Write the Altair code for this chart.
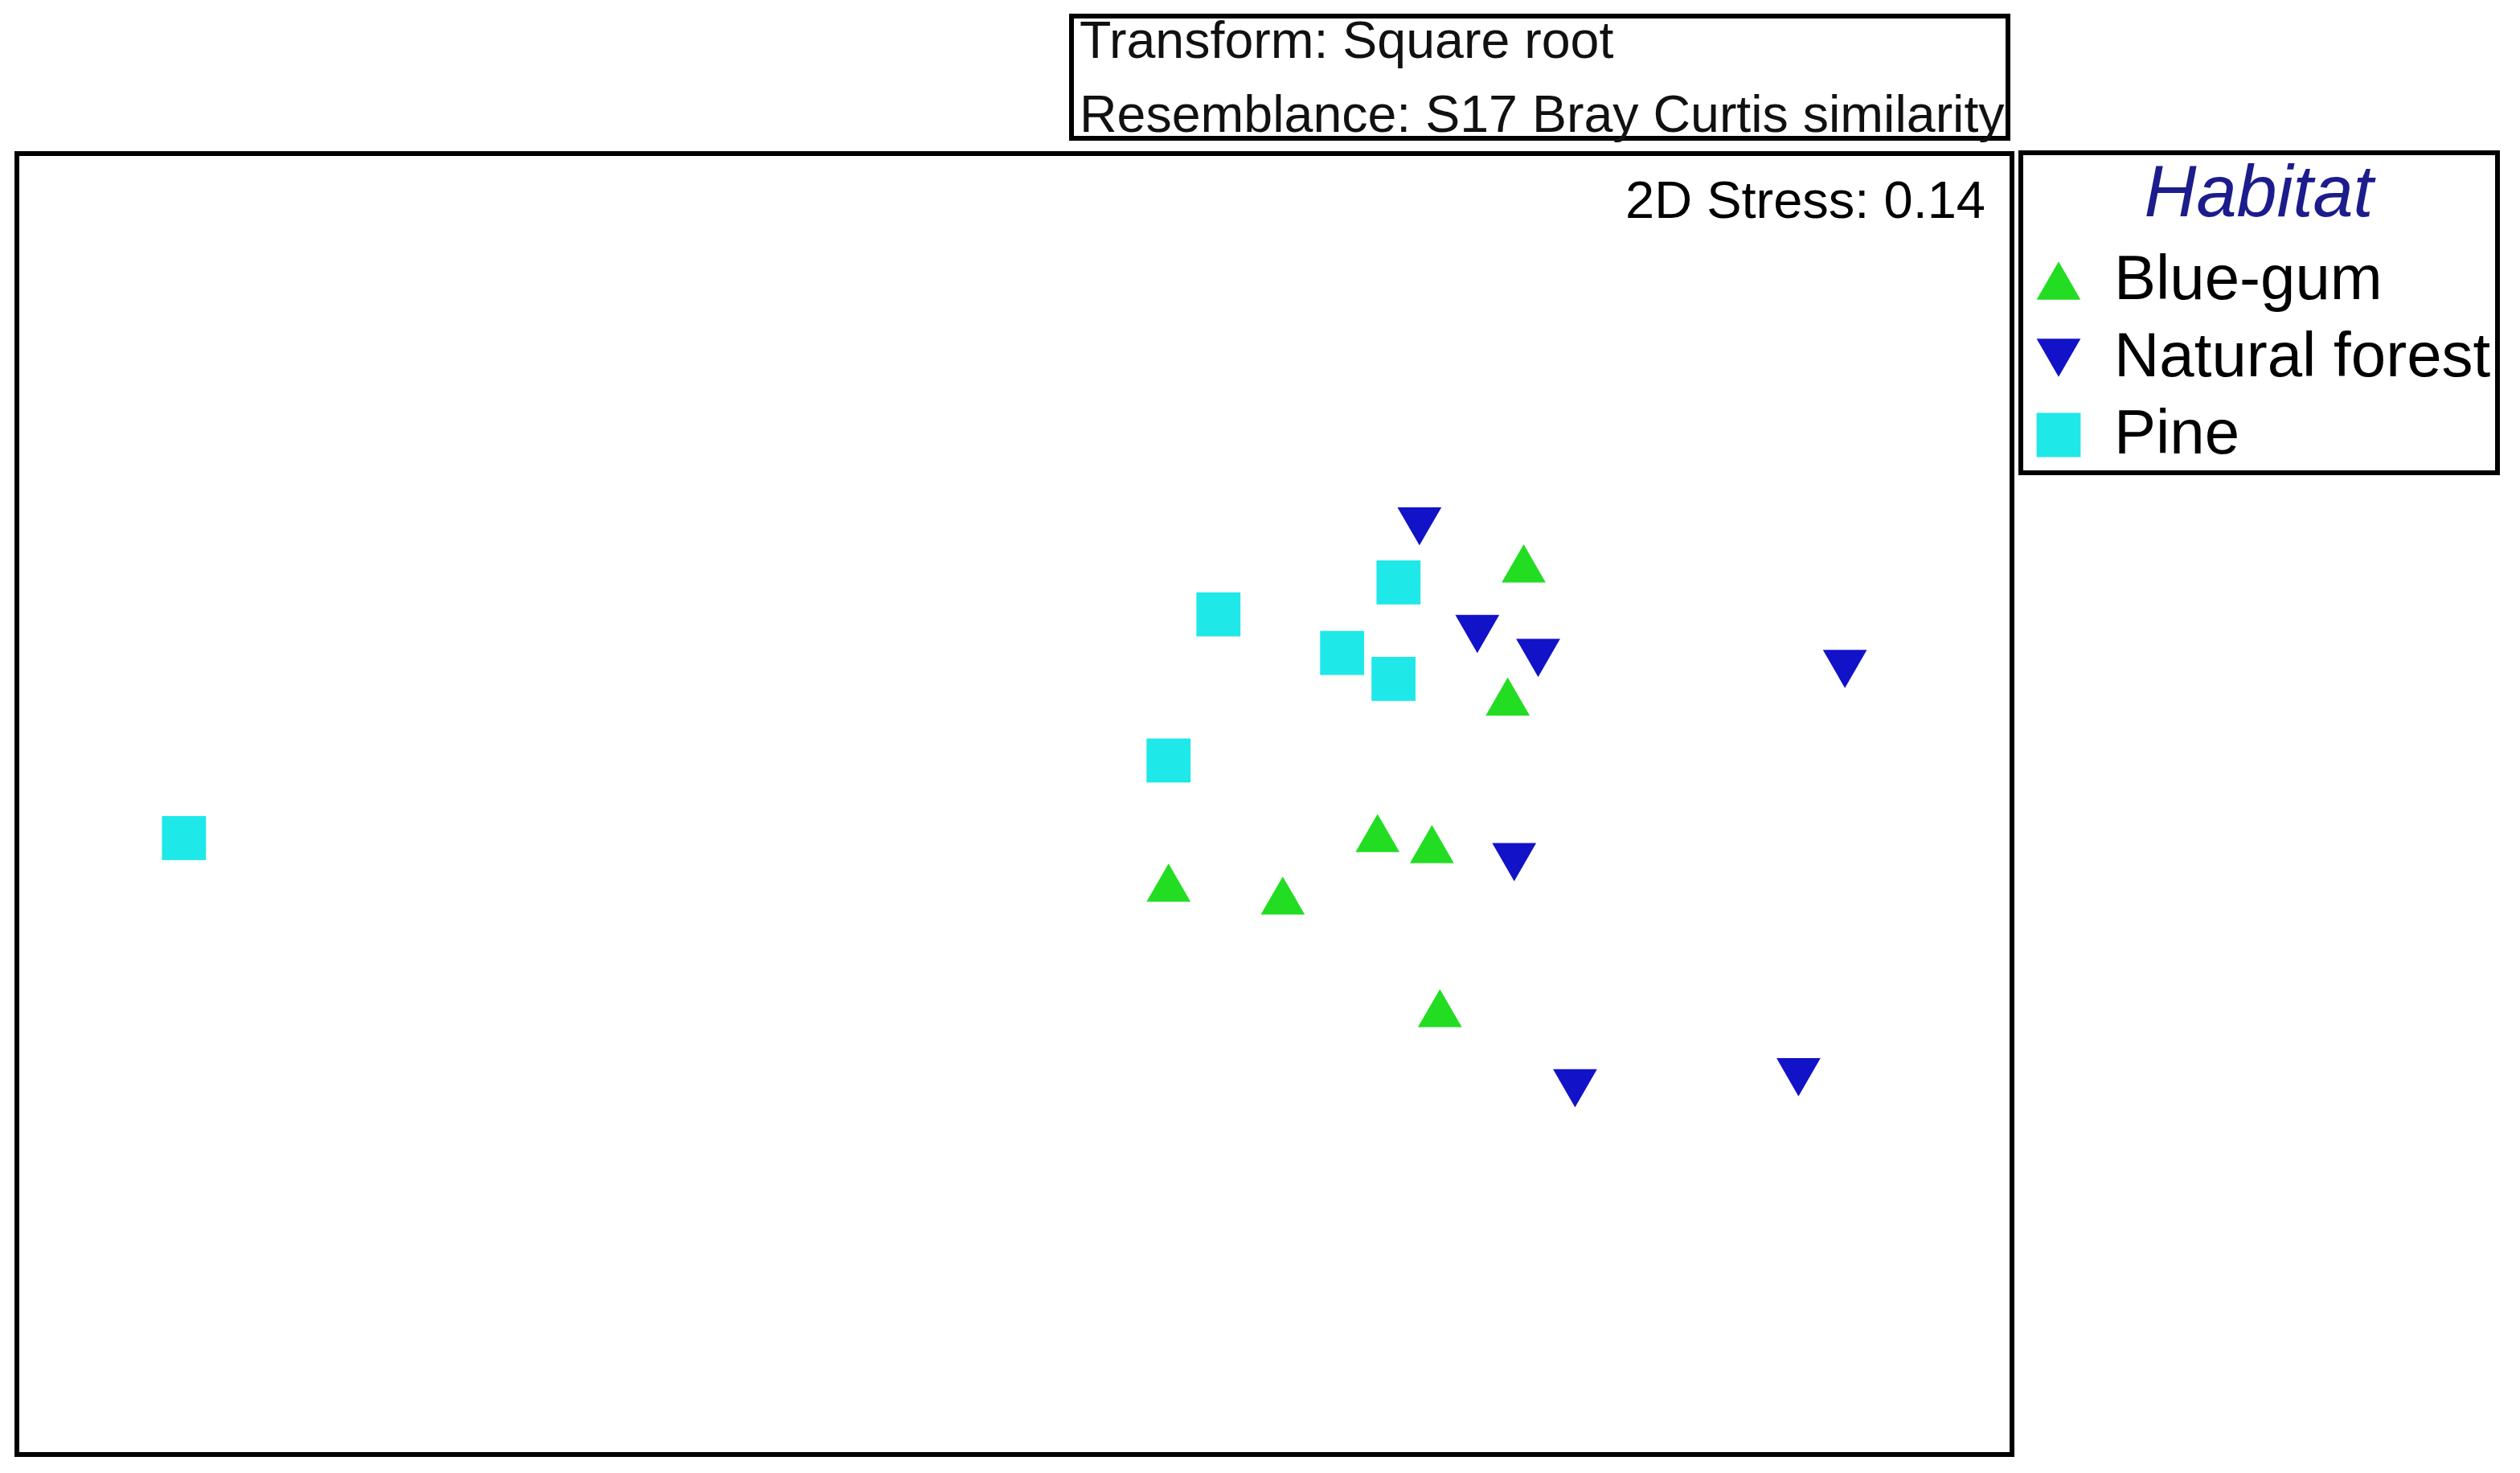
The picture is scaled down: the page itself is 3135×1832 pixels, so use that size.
import altair as alt
import pandas as pd

# ---- data (nMDS ordination coordinates) ----
habitats = ["Blue-gum", "Natural forest", "Pine"]

bluegum_x = [1.021, 0.989, 0.728, 0.837, 0.309, 0.538, 0.853]
bluegum_y = [0.481, 0.215, -0.058, -0.080, -0.157, -0.183, -0.408]

natural_x = [0.812, 0.928, 1.050, 1.665, 1.002, 1.124, 1.572]
natural_y = [0.555, 0.340, 0.292, 0.270, -0.116, -0.568, -0.546]

pine_x = [-1.665, 0.409, 0.770, 0.657, 0.760, 0.309]
pine_y = [-0.068, 0.379, 0.443, 0.302, 0.250, 0.087]

shapes = ["triangle-up", "triangle-down", "square"]
colors = ["#22dd22", "#1212c8", "#1ee8e8"]
sizes = [3000, 3000, 2600]

info_lines = ["Transform: Square root", "Resemblance: S17 Bray Curtis similarity"]
stress_label = ["2D Stress: 0.14"]
legend_title = "Habitat"

rows = []
for name, xs, ys in [
    ("Blue-gum", bluegum_x, bluegum_y),
    ("Natural forest", natural_x, natural_y),
    ("Pine", pine_x, pine_y),
]:
    for xv, yv in zip(xs, ys):
        rows.append({"MDS1": xv, "MDS2": yv, "Habitat": name})
df = pd.DataFrame(rows)

FONT = "Liberation Sans"

legend = alt.Legend(title=legend_title, orient="none", legendX=2493, legendY=-1)

points = alt.Chart(df).mark_point(filled=True, opacity=1).encode(
    x=alt.X("MDS1:Q", axis=None,
            scale=alt.Scale(domain=[-2.0, 2.0], nice=False, zero=False)),
    y=alt.Y("MDS2:Q", axis=None,
            scale=alt.Scale(domain=[-1.3, 1.3], nice=False, zero=False)),
    color=alt.Color("Habitat:N", scale=alt.Scale(domain=habitats, range=colors),
                    legend=legend),
    shape=alt.Shape("Habitat:N", scale=alt.Scale(domain=habitats, range=shapes),
                    legend=legend),
    size=alt.Size("Habitat:O", scale=alt.Scale(domain=habitats, range=sizes),
                  legend=None),
)

stress = alt.Chart(pd.DataFrame({"label": stress_label})).mark_text(
    align="right", baseline="alphabetic", fontSize=65, font=FONT, color="black"
).encode(x=alt.value(2449), y=alt.value(80), text="label:N")

info_box = alt.Chart(pd.DataFrame({"k": [0]})).mark_rect(
    fill="white", stroke="black", strokeWidth=6
).encode(x=alt.value(1312), x2=alt.value(2477), y=alt.value(-171), y2=alt.value(-19))

info_text = alt.Chart(pd.DataFrame({"k": [0]})).mark_text(
    text=info_lines, align="left", baseline="alphabetic", fontSize=64.5,
    font=FONT, color="#111111", lineHeight=92
).encode(x=alt.value(1322), y=alt.value(-119))

chart = alt.layer(points, stress, info_box, info_text).properties(
    width=2482,
    height=1618,
    padding={"left": 13, "top": 183, "right": 615, "bottom": 10},
    autosize=alt.AutoSizeParams(type="none"),
    background="white",
).configure_view(
    stroke="black", strokeWidth=6, fill="white"
).configure_legend(
    titleFontSize=90, titleFont=FONT, titleFontStyle="italic",
    titleFontWeight="normal", titleColor="#1c1c8c", titleAnchor="middle",
    titlePadding=22, titleLimit=0, labelFontSize=78, labelFont=FONT,
    labelColor="black",
    symbolSize=3300, symbolStrokeWidth=0, symbolOpacity=1,
    padding=8, rowPadding=18, strokeColor="black", strokeWidth=6,
    fillColor="white", labelOffset=30, labelLimit=0,
)

chart.save("out.html", embed_options={"renderer": "svg", "actions": False})
